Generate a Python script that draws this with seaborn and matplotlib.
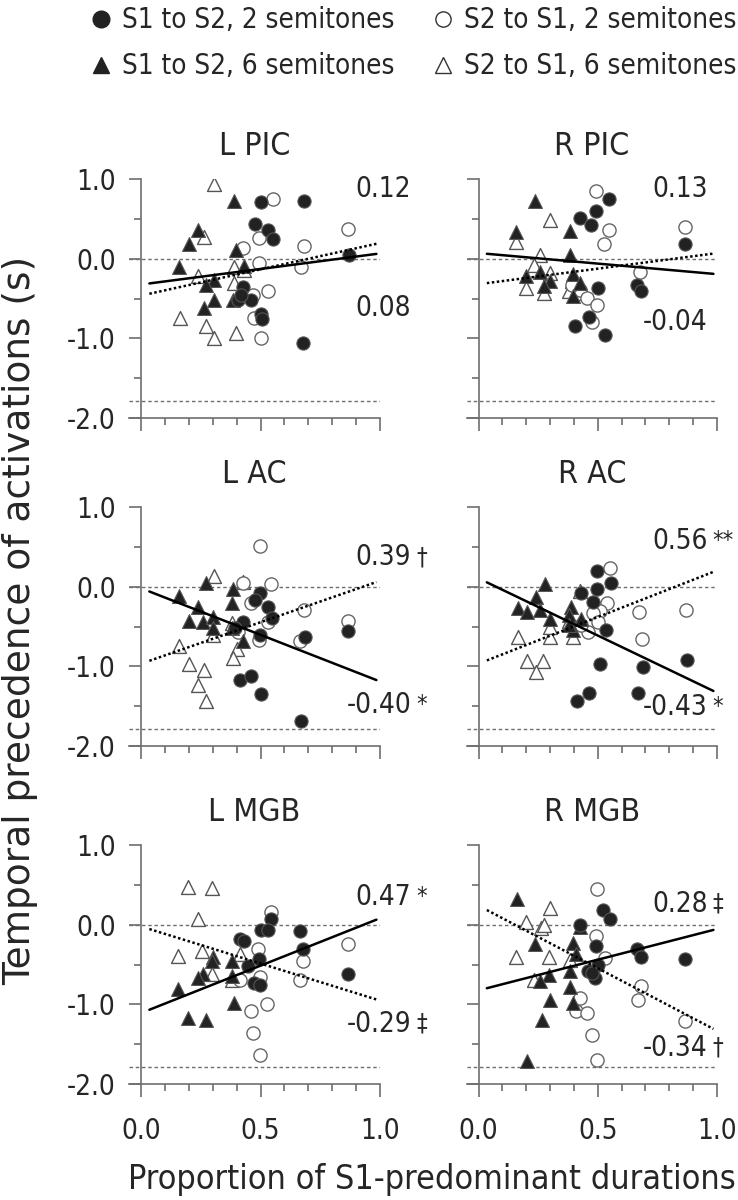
import numpy as np
import pandas as pd
import seaborn as sns
import matplotlib
matplotlib.use('Agg')
import matplotlib.pyplot as plt
from matplotlib.lines import Line2D
from matplotlib.ticker import MultipleLocator

# panel titles and correlation labels
panels = ['L PIC', 'R PIC', 'L AC', 'R AC', 'L MGB', 'R MGB']
r_upper = ['0.12', '0.13', '0.39', '0.56', '0.47', '0.28']
sig_upper = ['', '', '\u2020', '**', '*', '\u2021']
r_lower = ['0.08', '-0.04', '-0.40', '-0.43', '-0.29', '-0.34']
sig_lower = ['', '', '*', '*', '\u2021', '\u2020']

# fitted lines (intercept, slope)
solid_b0 = [-0.324, 0.071, -0.019, 0.105, -1.109, -0.824]
solid_b1 = [0.39, -0.265, -1.17, -1.435, 1.19, 0.77]
dot_b0 = [-0.463, -0.32, -0.966, -0.966, -0.022, 0.239]
dot_b1 = [0.66, 0.39, 1.04, 1.17, -0.93, -1.57]

yticks = [-2.0, -1.0, 0.0, 1.0]
ytick_labels = ['-2.0', '-1.0', '0.0', '1.0']
xticks = [0.0, 0.5, 1.0]
xtick_labels = ['0.0', '0.5', '1.0']

# c1: S1 to S2, 2 semitones / c2: S2 to S1, 2 semitones
# t1: S1 to S2, 6 semitones / t2: S2 to S1, 6 semitones
lpic_c1_x = [0.50, 0.683, 0.477, 0.533, 0.551, 0.872, 0.425, 0.405, 0.46, 0.418, 0.50, 0.506, 0.676]
lpic_c1_y = [0.71, 0.73, 0.43, 0.365, 0.25, 0.05, -0.35, -0.52, -0.52, -0.45, -0.70, -0.76, -1.06]
lpic_c2_x = [0.551, 0.867, 0.492, 0.683, 0.425, 0.495, 0.669, 0.53, 0.467, 0.474, 0.502]
lpic_c2_y = [0.755, 0.37, 0.26, 0.16, 0.13, -0.05, -0.10, -0.40, -0.45, -0.75, -1.0]
lpic_t1_x = [0.388, 0.24, 0.202, 0.397, 0.16, 0.43, 0.307, 0.272, 0.305, 0.265, 0.384]
lpic_t1_y = [0.72, 0.365, 0.18, 0.11, -0.11, -0.09, -0.27, -0.33, -0.52, -0.62, -0.52]
lpic_t2_x = [0.305, 0.265, 0.388, 0.24, 0.388, 0.432, 0.163, 0.272, 0.305, 0.397]
lpic_t2_y = [0.94, 0.27, -0.10, -0.22, -0.31, -0.14, -0.75, -0.84, -1.0, -0.93]

rpic_c1_x = [0.546, 0.493, 0.427, 0.472, 0.867, 0.665, 0.681, 0.50, 0.462, 0.406, 0.529]
rpic_c1_y = [0.755, 0.60, 0.51, 0.42, 0.18, -0.33, -0.40, -0.37, -0.73, -0.84, -0.96]
rpic_c2_x = [0.494, 0.867, 0.546, 0.525, 0.678, 0.427, 0.455, 0.497, 0.476, 0.392]
rpic_c2_y = [0.855, 0.40, 0.365, 0.185, -0.17, -0.39, -0.49, -0.58, -0.79, -0.33]
rpic_t1_x = [0.238, 0.157, 0.382, 0.385, 0.20, 0.256, 0.30, 0.273, 0.396, 0.427, 0.396]
rpic_t1_y = [0.72, 0.33, 0.35, 0.05, -0.22, -0.17, -0.28, -0.34, -0.19, -0.31, -0.47]
rpic_t2_x = [0.30, 0.158, 0.259, 0.234, 0.298, 0.20, 0.273, 0.378, 0.434, 0.392]
rpic_t2_y = [0.48, 0.205, 0.05, -0.075, -0.18, -0.37, -0.43, -0.41, -0.43, -0.28]

lac_c1_x = [0.496, 0.475, 0.531, 0.548, 0.426, 0.392, 0.496, 0.685, 0.867, 0.413, 0.461, 0.50, 0.668]
lac_c1_y = [-0.08, -0.17, -0.25, -0.39, -0.44, -0.52, -0.61, -0.63, -0.55, -1.175, -1.125, -1.35, -1.68]
lac_c2_x = [0.498, 0.545, 0.426, 0.461, 0.682, 0.867, 0.531, 0.664, 0.493, 0.405]
lac_c2_y = [0.51, 0.035, 0.05, -0.21, -0.29, -0.43, -0.44, -0.68, -0.67, -0.57]
lac_t1_x = [0.273, 0.385, 0.161, 0.38, 0.238, 0.20, 0.259, 0.30, 0.30, 0.38, 0.426]
lac_t1_y = [0.05, -0.03, -0.12, -0.21, -0.25, -0.43, -0.44, -0.38, -0.52, -0.52, -0.68]
lac_t2_x = [0.305, 0.426, 0.30, 0.161, 0.40, 0.385, 0.20, 0.263, 0.238, 0.27, 0.38]
lac_t2_y = [0.135, 0.06, -0.61, -0.75, -0.78, -0.90, -0.97, -1.05, -1.23, -1.43, -0.46]

rac_c1_x = [0.497, 0.555, 0.497, 0.428, 0.48, 0.534, 0.508, 0.688, 0.874, 0.67, 0.463, 0.413]
rac_c1_y = [0.20, 0.05, -0.03, -0.08, -0.19, -0.545, -0.965, -1.01, -0.915, -1.335, -1.335, -1.435]
rac_c2_x = [0.553, 0.537, 0.511, 0.48, 0.674, 0.871, 0.459, 0.684, 0.43, 0.50]
rac_c2_y = [0.24, -0.20, -0.30, -0.335, -0.315, -0.29, -0.565, -0.65, -0.48, -0.44]
rac_t1_x = [0.277, 0.242, 0.164, 0.202, 0.259, 0.298, 0.389, 0.38, 0.431, 0.396, 0.38]
rac_t1_y = [0.04, -0.135, -0.27, -0.32, -0.29, -0.40, -0.25, -0.36, -0.40, -0.545, -0.48]
rac_t2_x = [0.164, 0.298, 0.396, 0.298, 0.202, 0.27, 0.242, 0.424, 0.38]
rac_t2_y = [-0.63, -0.63, -0.63, -0.50, -0.93, -0.93, -1.07, -0.06, -0.43]

lmgb_c1_x = [0.544, 0.502, 0.533, 0.665, 0.414, 0.43, 0.679, 0.494, 0.449, 0.865, 0.474, 0.498]
lmgb_c1_y = [0.07, -0.07, -0.07, -0.08, -0.18, -0.20, -0.31, -0.43, -0.52, -0.62, -0.73, -0.76]
lmgb_c2_x = [0.544, 0.865, 0.49, 0.679, 0.414, 0.498, 0.665, 0.46, 0.526, 0.47, 0.498]
lmgb_c2_y = [0.155, -0.245, -0.31, -0.45, -0.70, -0.65, -0.70, -1.08, -1.0, -1.36, -1.63]
lmgb_t1_x = [0.303, 0.296, 0.379, 0.261, 0.237, 0.156, 0.379, 0.39, 0.198, 0.27]
lmgb_t1_y = [-0.405, -0.45, -0.455, -0.62, -0.67, -0.81, -0.645, -0.98, -1.17, -1.19]
lmgb_t2_x = [0.198, 0.298, 0.237, 0.156, 0.256, 0.296, 0.379, 0.414]
lmgb_t2_y = [0.47, 0.46, 0.07, -0.39, -0.33, -0.62, -0.69, -0.37]

rmgb_c1_x = [0.524, 0.55, 0.424, 0.494, 0.664, 0.681, 0.867, 0.50, 0.461, 0.489, 0.475]
rmgb_c1_y = [0.185, 0.07, 0.0, -0.27, -0.31, -0.405, -0.435, -0.50, -0.58, -0.67, -0.60]
rmgb_c2_x = [0.497, 0.494, 0.531, 0.681, 0.667, 0.427, 0.41, 0.457, 0.476, 0.497, 0.867]
rmgb_c2_y = [0.45, -0.14, -0.42, -0.77, -0.94, -0.92, -1.08, -1.11, -1.38, -1.70, -1.21]
rmgb_t1_x = [0.161, 0.238, 0.396, 0.41, 0.294, 0.259, 0.382, 0.382, 0.30, 0.396, 0.266, 0.203, 0.427]
rmgb_t1_y = [0.325, -0.245, -0.235, -0.37, -0.63, -0.71, -0.58, -0.785, -0.94, -0.98, -1.19, -1.71, -0.035]
rmgb_t2_x = [0.298, 0.20, 0.262, 0.158, 0.294, 0.231, 0.385, 0.273]
rmgb_t2_y = [0.21, 0.04, -0.04, -0.405, -0.405, -0.69, -0.44, -0.01]

data = {
    'L PIC': [(lpic_t2_x, lpic_t2_y), (lpic_c2_x, lpic_c2_y), (lpic_t1_x, lpic_t1_y), (lpic_c1_x, lpic_c1_y)],
    'R PIC': [(rpic_t2_x, rpic_t2_y), (rpic_c2_x, rpic_c2_y), (rpic_t1_x, rpic_t1_y), (rpic_c1_x, rpic_c1_y)],
    'L AC': [(lac_t2_x, lac_t2_y), (lac_c2_x, lac_c2_y), (lac_t1_x, lac_t1_y), (lac_c1_x, lac_c1_y)],
    'R AC': [(rac_t2_x, rac_t2_y), (rac_c2_x, rac_c2_y), (rac_t1_x, rac_t1_y), (rac_c1_x, rac_c1_y)],
    'L MGB': [(lmgb_t2_x, lmgb_t2_y), (lmgb_c2_x, lmgb_c2_y), (lmgb_t1_x, lmgb_t1_y), (lmgb_c1_x, lmgb_c1_y)],
    'R MGB': [(rmgb_t2_x, rmgb_t2_y), (rmgb_c2_x, rmgb_c2_y), (rmgb_t1_x, rmgb_t1_y), (rmgb_c1_x, rmgb_c1_y)],
}

sns.set_style('ticks')
plt.rcParams['font.family'] = ['DejaVu Sans']
plt.rcParams['font.stretch'] = 'condensed'
plt.rcParams['axes.unicode_minus'] = False

dark = '#222222'
grey = '#6e6e6e'
# order matches data lists: t2, c2, t1, c1
styles = [
    dict(marker='^', color='white', edgecolor='#555555', s=100, linewidth=1.0),
    dict(marker='o', color='white', edgecolor='#666666', s=90, linewidth=1.0),
    dict(marker='^', color=dark, edgecolor='#555555', s=100, linewidth=0.8),
    dict(marker='o', color=dark, edgecolor='#555555', s=90, linewidth=0.8),
]

fig = plt.figure(figsize=(7.38, 12), dpi=100)

# axes placement in pixels: left edge of y-axis, px per x unit, y of top (1.0)
col_x0 = [141, 478.5]
col_w = [239, 238.5]
row_top = [179, 507, 845]
unit_h = 79.7
W, H = 738.0, 1200.0
xmin = -0.05
num_x = [1.13, 0.962]
lab_y_up = [0.87, 0.87, 0.37, 0.575, 0.35, 0.265]
lab_y_lo = [-0.62, -0.79, -1.49, -1.515, -1.24, -1.545]

fit_x = np.array([0.035, 0.985])

for i, name in enumerate(panels):
    r, c = divmod(i, 2)
    left = col_x0[c] + xmin * col_w[c]
    width = col_w[c] * (1.0 - xmin)
    top = row_top[r]
    height = unit_h * 3
    ax = fig.add_axes([left / W, 1 - (top + height) / H, width / W, height / H])

    ax.axhline(0, color=grey, lw=1, ls=(0, (2.5, 2)), zorder=1)
    ax.axhline(-1.78, color=grey, lw=1, ls=(0, (2.5, 2)), zorder=1)

    for (gx, gy), st in zip(data[name], styles):
        sns.scatterplot(x=gx, y=gy, ax=ax, zorder=3, **st)

    sns.lineplot(x=fit_x, y=solid_b0[i] + solid_b1[i] * fit_x, ax=ax,
                 color='black', lw=1.8, zorder=4)
    sns.lineplot(x=fit_x, y=dot_b0[i] + dot_b1[i] * fit_x, ax=ax,
                 color='black', lw=1.8, ls=(0, (1, 1)), zorder=4)

    ax.set_xlim(xmin, 1.0)
    ax.set_ylim(-2.0, 1.0)
    ax.spines['left'].set_position(('data', 0))
    ax.spines['top'].set_visible(False)
    ax.spines['right'].set_visible(False)
    for sp in ['left', 'bottom']:
        ax.spines[sp].set_color(grey)
        ax.spines[sp].set_linewidth(1.2)

    ax.set_xticks(xticks)
    ax.xaxis.set_minor_locator(MultipleLocator(0.1))
    ax.set_yticks(yticks)
    ax.yaxis.set_minor_locator(MultipleLocator(0.5))
    ax.tick_params(which='major', length=9, width=1.2, color=grey, labelsize=20, pad=9)
    ax.tick_params(which='minor', length=5, width=1.2, color=grey)
    ax.tick_params(axis='x', pad=15)
    if c == 0:
        ax.set_yticklabels(ytick_labels)
    else:
        ax.set_yticklabels([])
    if r == 2:
        ax.set_xticklabels(xtick_labels)
    else:
        ax.set_xticklabels([])
    ax.set_xlabel('')
    ax.set_ylabel('')
    ax.set_title(name, fontsize=23, pad=17)

    ax.text(num_x[c], lab_y_up[i], r_upper[i], ha='right', va='center', fontsize=20, clip_on=False)
    ax.text(num_x[c], lab_y_lo[i], r_lower[i], ha='right', va='center', fontsize=20, clip_on=False)
    if sig_upper[i]:
        ax.annotate(sig_upper[i], xy=(num_x[c], lab_y_up[i]), xytext=(3.5, 0), textcoords='offset points',
                    ha='left', va='center', fontsize=17, annotation_clip=False)
    if sig_lower[i]:
        ax.annotate(sig_lower[i], xy=(num_x[c], lab_y_lo[i]), xytext=(3.5, 0), textcoords='offset points',
                    ha='left', va='center', fontsize=17, annotation_clip=False)

fig.text(20 / W, 0.483, 'Temporal precedence of activations (s)', rotation=90,
         ha='center', va='center', fontsize=27, fontstretch='normal')
fig.text(0.585, 0.017, 'Proportion of S1-predominant durations', ha='center', va='center', fontsize=24.5)

handles = [
    Line2D([], [], ls='', marker='o', ms=12, mfc=dark, mec=dark),
    Line2D([], [], ls='', marker='^', ms=12, mfc=dark, mec=dark),
    Line2D([], [], ls='', marker='o', ms=11, mfc='white', mec='#333333'),
    Line2D([], [], ls='', marker='^', ms=11, mfc='white', mec='#333333'),
]
labels = ['S1 to S2, 2 semitones', 'S1 to S2, 6 semitones',
          'S2 to S1, 2 semitones', 'S2 to S1, 6 semitones']
fig.legend(handles, labels, ncol=2, loc='upper left', bbox_to_anchor=(0.105, 1.004),
           frameon=False, fontsize=20, handletextpad=0.3, columnspacing=1.3,
           labelspacing=0.65, handlelength=0.9, borderaxespad=0.0)

fig.savefig('out.png', dpi=100)
